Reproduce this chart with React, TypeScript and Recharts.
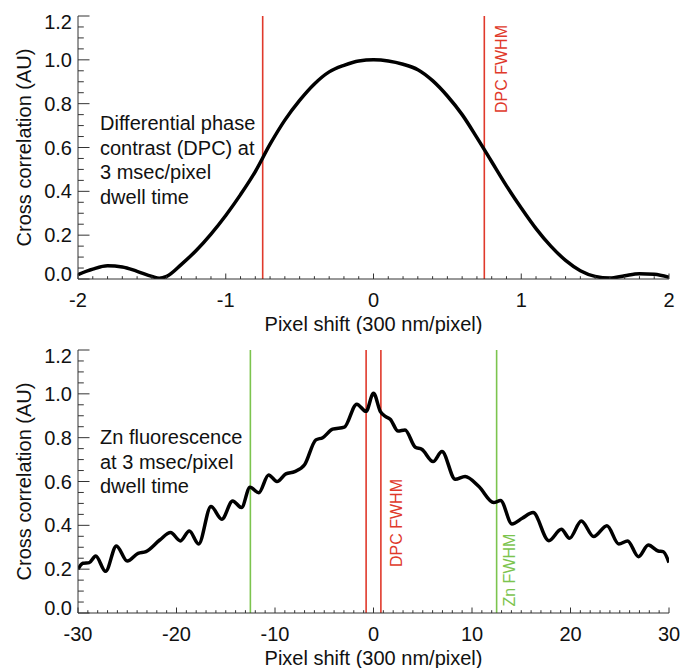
import React from "react";
import {
  ComposedChart,
  Line,
  XAxis,
  YAxis,
  ReferenceLine,
  Customized,
} from "recharts";

// top panel: DPC autocorrelation, pixel shift -2..2
const dpcShift = [
  -2.0, -1.9, -1.8, -1.7, -1.6, -1.5, -1.45, -1.4, -1.3, -1.2, -1.1, -1.0,
  -0.9, -0.8, -0.7, -0.6, -0.5, -0.4, -0.3, -0.2, -0.1, 0.0, 0.1, 0.2, 0.3,
  0.4, 0.5, 0.6, 0.7, 0.8, 0.9, 1.0, 1.1, 1.2, 1.3, 1.4, 1.5, 1.6, 1.7, 1.8,
  1.9, 2.0,
];
const dpcCorr = [
  0.02, 0.045, 0.06, 0.055, 0.035, 0.012, 0.003, 0.012, 0.067, 0.13, 0.205,
  0.29, 0.385, 0.49, 0.615, 0.725, 0.815, 0.89, 0.945, 0.975, 0.995, 1.0,
  0.995, 0.98, 0.955, 0.905, 0.835, 0.75, 0.645, 0.535, 0.425, 0.324, 0.23,
  0.15, 0.085, 0.038, 0.012, 0.004, 0.015, 0.024, 0.022, 0.008,
];

// bottom panel: Zn fluorescence autocorrelation, pixel shift -30..30
const znShift = [
  -30, -29.5, -28.85, -28.2, -27.2, -26.1, -25.0, -23.9, -23.1, -21.7, -20.6,
  -19.6, -18.7, -17.75, -16.5, -15.4, -14.3, -13.4, -12.54, -11.65, -10.65,
  -9.8, -8.9, -8.0, -7.0, -5.85, -5.16, -4.15, -2.96, -1.7, -0.76, 0.0, 0.7,
  1.2, 1.7, 2.5, 3.2, 4.25, 4.9, 6.05, 6.95, 8.3, 9.3, 10.7, 12.2, 12.9,
  14.06, 15.1, 16.2, 17.8, 19.07, 19.9, 21.1, 22.35, 23.7, 24.9, 25.8, 26.9,
  27.9, 28.9, 29.4, 30,
];
const znCorr = [
  0.2, 0.227, 0.23, 0.26, 0.19, 0.306, 0.237, 0.272, 0.28, 0.333, 0.367,
  0.329, 0.374, 0.315, 0.486, 0.428, 0.511, 0.481, 0.574, 0.549, 0.63, 0.6,
  0.635, 0.645, 0.676, 0.79, 0.8, 0.839, 0.848, 0.953, 0.92, 1.003, 0.919,
  0.897, 0.884, 0.83, 0.835, 0.756, 0.747, 0.691, 0.737, 0.61, 0.623, 0.577,
  0.504, 0.513, 0.406, 0.432, 0.458, 0.33, 0.382, 0.341, 0.42, 0.349, 0.398,
  0.315, 0.329, 0.257, 0.31, 0.283, 0.28, 0.23,
];

const dpcXTicks = [-2, -1, 0, 1, 2];
const znXTicks = [-30, -20, -10, 0, 10, 20, 30];
const yTicks = [0, 0.2, 0.4, 0.6, 0.8, 1.0, 1.2];
const dpcFwhm = [-0.75, 0.75];
const znFwhm = [-12.5, 12.5];

const dpcNote = [
  "Differential phase",
  "contrast (DPC) at",
  "3 msec/pixel",
  "dwell time",
];
const znNote = ["Zn fluorescence", "at 3 msec/pixel", "dwell time"];

const FONT = '"Liberation Sans", Arial, Helvetica, sans-serif';
const AXIS = "#333";
const RED = "#e0392b";
const GREEN = "#7cc44e";

const W = 680;
const H = 334;
const TOP = 16;

function subdivide(majors: number[], n: number) {
  const out: number[] = [];
  for (let i = 0; i < majors.length - 1; i++) {
    const step = (majors[i + 1] - majors[i]) / n;
    for (let k = 0; k < n; k++) out.push(+(majors[i] + k * step).toFixed(6));
  }
  out.push(majors[majors.length - 1]);
  return out;
}

const isMajor = (v: number, majors: number[]) =>
  majors.some((m) => Math.abs(m - v) < 1e-6);

function makeTick(
  side: "bottom" | "top" | "left" | "right",
  majors: number[],
  fmt: (v: number) => string
) {
  return (props: any) => {
    const { x, y, payload } = props;
    const v = payload.value;
    const maj = isMajor(v, majors);
    if (side === "bottom" || side === "top") {
      const len = maj ? 5.5 : 2.8;
      const y2 = side === "bottom" ? y - len : y + len;
      return (
        <g>
          <line x1={x} x2={x} y1={y} y2={y2} stroke={AXIS} strokeWidth={1} />
          {side === "bottom" && maj && (
            <text
              x={x}
              y={y + 28}
              textAnchor="middle"
              fontFamily={FONT}
              fontSize={20}
              fill="#111"
            >
              {fmt(v)}
            </text>
          )}
        </g>
      );
    }
    const len = maj ? 11.5 : 5.8;
    const x2 = side === "left" ? x + len : x - len;
    let dy = 7;
    if (Math.abs(v - majors[majors.length - 1]) < 1e-6) dy += 6;
    if (Math.abs(v - majors[0]) < 1e-6) dy -= 5;
    return (
      <g>
        <line x1={x} x2={x2} y1={y} y2={y} stroke={AXIS} strokeWidth={1} />
        {side === "left" && maj && (
          <text
            x={x - 6}
            y={y + dy}
            textAnchor="end"
            fontFamily={FONT}
            fontSize={20}
            fill="#111"
          >
            {fmt(v)}
          </text>
        )}
      </g>
    );
  };
}

type Marker = {
  x: number;
  color: string;
  text?: string;
  dx?: number;
  start?: number;
};

function Panel({
  shift,
  corr,
  xMajors,
  xMinor,
  markers,
  note,
  noteY,
}: {
  shift: number[];
  corr: number[];
  xMajors: number[];
  xMinor: number;
  markers: Marker[];
  note: string[];
  noteY: number;
}) {
  const data = shift.map((x, i) => ({ x, v: corr[i] }));
  const xAll = subdivide(xMajors, xMinor);
  const yAll = subdivide(yTicks, 4);
  const xDomain = [xMajors[0], xMajors[xMajors.length - 1]];
  const yDomain = [yTicks[0], yTicks[yTicks.length - 1]];
  const xfmt = (v: number) => String(v);
  const yfmt = (v: number) => v.toFixed(1);

  return (
    <ComposedChart
      width={W}
      height={H}
      data={data}
      margin={{ top: TOP, right: 11, left: 0, bottom: 0 }}
    >
      <XAxis
        xAxisId="b"
        dataKey="x"
        type="number"
        domain={xDomain}
        allowDataOverflow
        ticks={xAll}
        interval={0}
        height={55}
        tickSize={0}
        tickMargin={0}
        tickLine={false}
        axisLine={{ stroke: AXIS }}
        tick={makeTick("bottom", xMajors, xfmt)}
      />
      <XAxis
        xAxisId="t"
        dataKey="x"
        type="number"
        orientation="top"
        domain={xDomain}
        allowDataOverflow
        ticks={xAll}
        interval={0}
        height={0}
        tickSize={0}
        tickMargin={0}
        tickLine={false}
        axisLine={{ stroke: AXIS }}
        tick={makeTick("top", xMajors, xfmt)}
      />
      <YAxis
        yAxisId="l"
        type="number"
        domain={yDomain}
        allowDataOverflow
        ticks={yAll}
        interval={0}
        width={78}
        tickSize={0}
        tickMargin={0}
        tickLine={false}
        axisLine={{ stroke: AXIS }}
        tick={makeTick("left", yTicks, yfmt)}
      />
      <YAxis
        yAxisId="r"
        type="number"
        orientation="right"
        domain={yDomain}
        allowDataOverflow
        ticks={yAll}
        interval={0}
        width={0}
        tickSize={0}
        tickMargin={0}
        tickLine={false}
        axisLine={{ stroke: AXIS }}
        tick={makeTick("right", yTicks, yfmt)}
      />
      {markers.map((m, i) => (
        <ReferenceLine
          key={i}
          x={m.x}
          xAxisId="b"
          yAxisId="l"
          stroke={m.color}
          strokeWidth={1.6}
          label={
            m.text
              ? (p: any) => {
                  const vb = p.viewBox || {};
                  const tx = vb.x + (m.dx || 0);
                  const ty = TOP + (m.start || 0);
                  return (
                    <text
                      transform={`translate(${tx},${ty}) rotate(-90)`}
                      fontFamily={FONT}
                      fontSize={16}
                      fill={m.color}
                    >
                      {m.text}
                    </text>
                  );
                }
              : undefined
          }
        />
      ))}
      <Line
        xAxisId="b"
        yAxisId="l"
        dataKey="v"
        type="monotone"
        stroke="#000"
        strokeWidth={3.5}
        dot={false}
        activeDot={false}
        isAnimationActive={false}
      />
      <Line
        xAxisId="t"
        yAxisId="r"
        dataKey="v"
        type="monotone"
        stroke="none"
        dot={false}
        activeDot={false}
        isAnimationActive={false}
      />
      <Customized
        component={() => (
          <g fontFamily={FONT} fill="#111">
            {note.map((t, i) => (
              <text key={i} x={100} y={noteY + i * 24.5} fontSize={20}>
                {t}
              </text>
            ))}
            <text x={373.5} y={331} textAnchor="middle" fontSize={20}>
              Pixel shift (300 nm/pixel)
            </text>
            <text
              transform={`translate(31,${TOP + 131.5}) rotate(-90)`}
              textAnchor="middle"
              fontSize={20}
            >
              Cross correlation (AU)
            </text>
          </g>
        )}
      />
    </ComposedChart>
  );
}

export default function App() {
  return (
    <div
      style={{
        position: "absolute",
        left: 0,
        top: 0,
        width: W,
        height: 668,
        background: "#fff",
      }}
    >
      <Panel
        shift={dpcShift}
        corr={dpcCorr}
        xMajors={dpcXTicks}
        xMinor={10}
        note={dpcNote}
        noteY={130}
        markers={[
          { x: dpcFwhm[0], color: RED },
          { x: dpcFwhm[1], color: RED, text: "DPC FWHM", dx: 23, start: 97 },
        ]}
      />
      <Panel
        shift={znShift}
        corr={znCorr}
        xMajors={znXTicks}
        xMinor={10}
        note={znNote}
        noteY={110}
        markers={[
          { x: dpcFwhm[0], color: RED },
          { x: dpcFwhm[1], color: RED, text: "DPC FWHM", dx: 20.7, start: 217 },
          { x: znFwhm[0], color: GREEN },
          { x: znFwhm[1], color: GREEN, text: "Zn FWHM", dx: 18.3, start: 256.5 },
        ]}
      />
    </div>
  );
}
